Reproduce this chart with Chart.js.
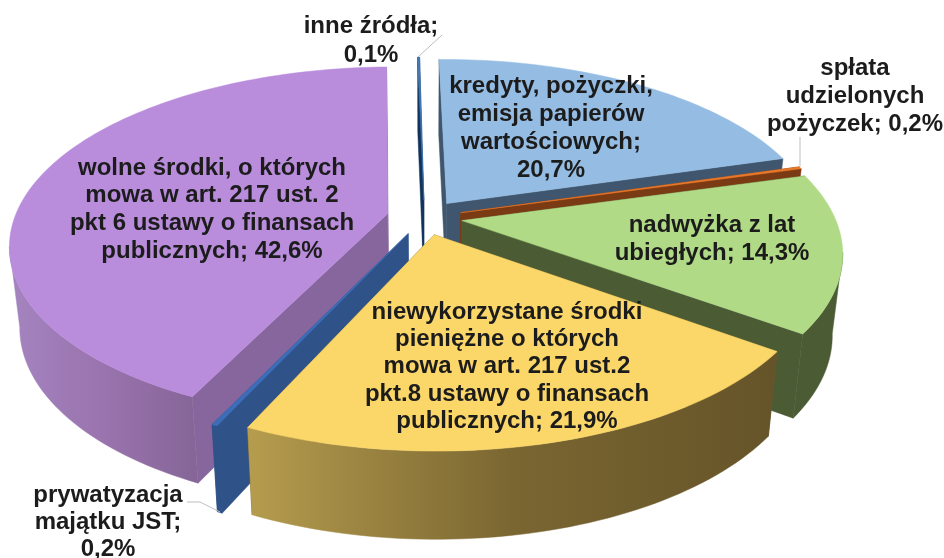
<!DOCTYPE html>
<html><head><meta charset="utf-8">
<style>html,body{margin:0;padding:0;background:#fff}#w{width:944px;height:558px}</style>
<script src="https://cdn.jsdelivr.net/npm/chart.js@4"></script>
</head><body><div id="w"><canvas id="c" width="944" height="558"></canvas></div>
<script>
const categories = ['kredyty, pożyczki, emisja papierów wartościowych','spłata udzielonych pożyczek','nadwyżka z lat ubiegłych','niewykorzystane środki pieniężne o których mowa w art. 217 ust.2 pkt.8 ustawy o finansach publicznych','prywatyzacja majątku JST','wolne środki, o których mowa w art. 217 ust. 2 pkt 6 ustawy o finansach publicznych','inne źródła'];
const shares = [20.7,0.2,14.3,21.9,0.2,42.6,0.1];
const topColors = ['#95BDE3','#E8792B','#B0DA85','#FBD769','#3D6DB8','#B98CDC','#3F78B5'];
const cutWallColors = ['#3F566E','#7A3A14','#4B5B34','#6B5A2C','#2F5288','#86669C','#12345C'];
const outerWallShades = [['#3F566E','#3F566E','#3F566E'],['#7A3A14','#7A3A14','#7A3A14'],['#4B5B34','#4B5B34','#4B5B34'],['#B59C4E','#7A6631','#655429'],['#2F5288','#2F5288','#2F5288'],['#A484C0','#9A74AE','#866699'],['#12345C','#12345C','#12345C']];
const labelTemplates = ['kredyty, pożyczki,\nemisja papierów\nwartościowych;\n{v}','spłata\nudzielonych\npożyczek; {v}','nadwyżka z lat\nubiegłych; {v}','niewykorzystane środki\npieniężne o których\nmowa w art. 217 ust.2\npkt.8 ustawy o finansach\npublicznych; {v}','prywatyzacja\nmajątku JST;\n{v}','wolne środki, o których\nmowa w art. 217 ust. 2\npkt 6 ustawy o finansach\npublicznych; {v}','inne źródła;\n{v}'];
const labelPlaces = [[551,86,28],[855,68,28],[712,225,28],[507,312,27.3],[108,495,27],[212,168,27.7],[371,26,29]];
const leaders = [[[442,35],[418,57]],[[800,137],[800,166]],[[187,502],[200,502],[220,512]]];

const view = {fx:373, sy:173, p:0.17, shrink:0.975, depth:80, depthGrow:0.035};

const pie3d = {
  id:'pie3d',
  beforeDatasetDraw(chart){
    const ctx = chart.ctx, arcs = chart.getDatasetMeta(0).data;
    const order = arcs.map((a,i)=>i).sort((i,j)=>{
      const m=a=>Math.sin((a.startAngle+a.endAngle)/2);
      return m(arcs[i])-m(arcs[j]);
    });
    for (const i of order) drawSlice(ctx, arcs[i], i);
    return false;
  },
  afterDraw(chart){
    const ctx = chart.ctx;
    ctx.save();
    ctx.strokeStyle='#BFBFBF'; ctx.lineWidth=1;
    for (const l of leaders){ ctx.beginPath(); l.forEach((p,k)=>k?ctx.lineTo(p[0],p[1]):ctx.moveTo(p[0],p[1])); ctx.stroke(); }
    ctx.fillStyle='#1c1c1c'; ctx.textAlign='center'; ctx.textBaseline='middle';
    ctx.font='bold 24px "Liberation Sans", Arial, sans-serif';
    labelTemplates.forEach((t,i)=>{
      const txt=t.replace('{v}',String(shares[i]).replace('.',',')+'%');
      txt.split('\n').forEach((ln,k)=>ctx.fillText(ln,labelPlaces[i][0],labelPlaces[i][1]+k*labelPlaces[i][2]));
    });
    ctx.restore();
  }
};
function drawSlice(ctx,a,i){
  const R=a.outerRadius, mid=(a.startAngle+a.endAngle)/2, d=a.options.offset/R;
  const ou=d*Math.cos(mid), ov=d*Math.sin(mid);
  const proj=(ang,r)=>{
    const u=ou+r*Math.cos(ang), v=ov+r*Math.sin(ang), w=1-view.p*v;
    return [a.x+view.fx*u/w, a.y+view.sy*v/w];
  };
  const low=p=>[a.x+(p[0]-a.x)*view.shrink, p[1]+view.depth+(p[1]-a.y)*view.depthGrow];
  const N=Math.max(3,Math.ceil((a.endAngle-a.startAngle)*40));
  const rim=[]; for(let k=0;k<=N;k++) rim.push(proj(a.startAngle+(a.endAngle-a.startAngle)*k/N,1));
  const apex=proj(mid,0);
  const poly=(pts,fill)=>{ctx.beginPath();pts.forEach((p,k)=>k?ctx.lineTo(p[0],p[1]):ctx.moveTo(p[0],p[1]));ctx.closePath();ctx.fillStyle=fill;ctx.fill();ctx.strokeStyle=fill;ctx.lineWidth=0.5;ctx.stroke();};
  ctx.save();
  const s=rim[0], e=rim[N];
  poly([apex,s,low(s),low(apex)],cutWallColors[i]);
  poly([apex,e,low(e),low(apex)],cutWallColors[i]);
  // the outer wall: only the run of the rim that faces the viewer (x falling along the clockwise rim)
  const front=[];
  for(let k=0;k<=N;k++){
    const falling=(k<N&&rim[k+1][0]<rim[k][0])||(k>0&&rim[k][0]<rim[k-1][0]);
    if(falling) front.push(rim[k]);
  }
  if(front.length>1){
    const xs=front.map(p=>p[0]), x0=Math.min(...xs), x1=Math.max(...xs);
    const g=ctx.createLinearGradient(x0,0,x1+0.01,0);
    outerWallShades[i].forEach((c,k)=>g.addColorStop(k/2,c));
    poly(front.concat(front.map(low).reverse()),g);
  }
  poly([apex].concat(rim),a.options.backgroundColor);
  ctx.restore();
}
new Chart(document.getElementById('c'),{
  type:'pie',
  data:{labels:categories,datasets:[{data:shares,backgroundColor:topColors,borderWidth:0,offset:shares.map(()=>21)}]},
  options:{responsive:false,animation:false,rotation:-0.8,
    layout:{padding:{right:95,bottom:123}},
    plugins:{legend:{display:false},tooltip:{enabled:false}}},
  plugins:[pie3d]
});
</script></body></html>
